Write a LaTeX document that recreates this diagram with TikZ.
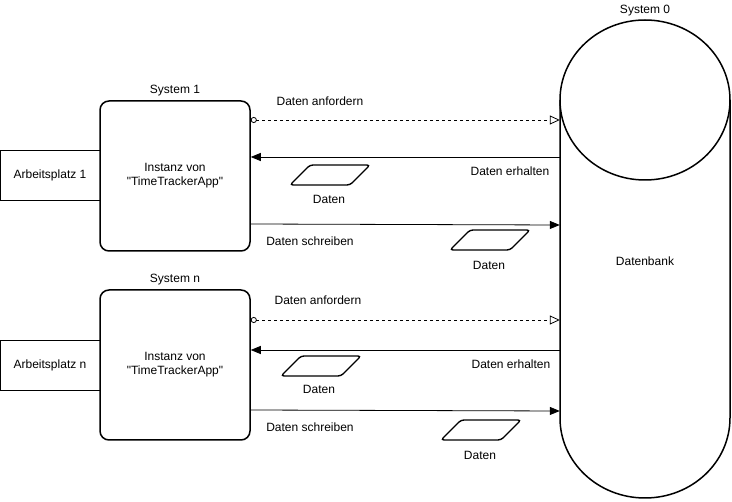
\documentclass[tikz,border=0pt]{standalone}
\usepackage{fontspec}
\setmainfont{Liberation Sans}
\usetikzlibrary{arrows.meta}
\begin{document}
\begin{tikzpicture}[x=1pt,y=-1pt,
  font=\fontsize{12}{14}\selectfont,
  sysbox/.style={draw, line width=1.5pt, rounded corners=9pt,
    minimum width=150pt, minimum height=150pt, align=center, inner sep=0pt},
  platz/.style={draw, line width=0.8pt, minimum width=100pt, minimum height=50pt, inner sep=0pt},
  lbl/.style={inner sep=0pt},
  request/.style={draw, line width=0.8pt, dash pattern=on 3pt off 3pt,
    {Circle[open,length=6pt,width=6pt,line width=0.8pt]}-{Triangle[open,length=10pt,width=9pt,line width=0.8pt]}},
  flow/.style={draw, line width=0.8pt, -{Triangle[length=10pt,width=8pt]}},
  datenform/.pic={\draw[line width=1.4pt, rounded corners=3pt]
    (20,0) -- (80,0) -- (60,20) -- (0,20) -- cycle;}
]
\useasboundingbox (0,0) rectangle (732,502);

% database cylinder
\draw[line width=1.5pt] (560,100) -- (560,418)
  .. controls (560,462.2) and (598,498) .. (645,498)
  .. controls (692,498) and (730,462.2) .. (730,418) -- (730,100);
\draw[line width=1.5pt] (645,100) ellipse [x radius=85, y radius=80];
\node[minimum width=170pt, minimum height=478pt, inner sep=0pt] (db) at (645,259) {};
\node[lbl] (dbtext) at (645,261) {Datenbank};
\node[lbl] (sys0) at (645,11) {System 0};

% workstations and app instances
\node[platz] (ap1) at (50,175) {Arbeitsplatz 1};
\node[platz] (apn) at (50,365) {Arbeitsplatz n};
\node[sysbox, fill=white] (s1) at (175,176) {Instanz von\\\textquotedbl TimeTrackerApp\textquotedbl};
\node[sysbox, fill=white] (sn) at (175,365) {Instanz von\\\textquotedbl TimeTrackerApp\textquotedbl};
\node[lbl] (s1lbl) at (175,91) {System 1};
\node[lbl] (snlbl) at (175,280) {System n};

% data exchange, system 1
\draw[request] (s1.east |- 0,120) -- (db.west |- 0,120);
\draw[flow] (db.west |- 0,157) -- (s1.east |- 0,157);
\draw[flow] (s1.east |- 0,224) -- (db.west |- 0,225);
\node[lbl] (r1) at (320,101) {Daten anfordern};
\node[lbl] (e1) at (510,171) {Daten erhalten};
\node[lbl] (w1) at (310,241) {Daten schreiben};
\pic at (290,165) {datenform};
\node[lbl] (d1a) at (329,199) {Daten};
\pic at (450,230) {datenform};
\node[lbl] (d1b) at (489,265) {Daten};

% data exchange, system n
\draw[request] (sn.east |- 0,320) -- (db.west |- 0,320);
\draw[flow] (db.west |- 0,350) -- (sn.east |- 0,350);
\draw[flow] (sn.east |- 0,410) -- (db.west |- 0,411);
\node[lbl] (rn) at (318,300) {Daten anfordern};
\node[lbl] (en) at (511,364) {Daten erhalten};
\node[lbl] (wn) at (310,427) {Daten schreiben};
\pic at (281,356) {datenform};
\node[lbl] (dna) at (319,389) {Daten};
\pic at (441,420) {datenform};
\node[lbl] (dnb) at (480,455) {Daten};
\end{tikzpicture}
\end{document}
